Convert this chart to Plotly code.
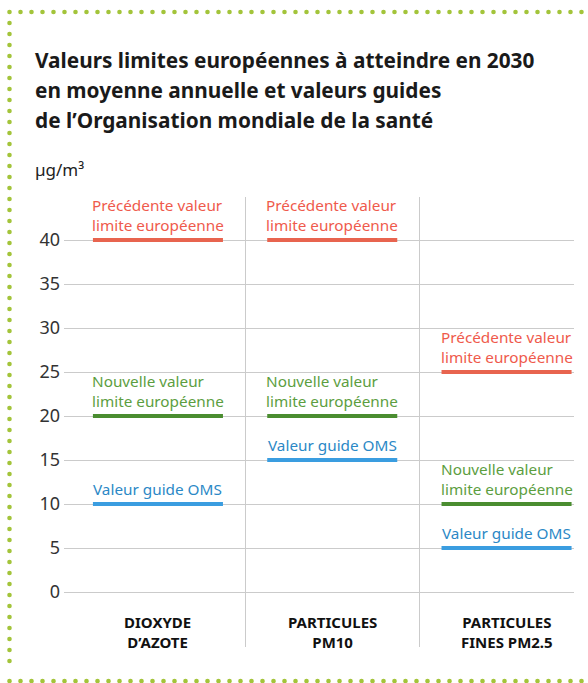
import plotly.graph_objects as go

# ---------------- data ----------------
categories = ["DIOXYDE<br>D’AZOTE", "PARTICULES<br>PM10", "PARTICULES<br>FINES PM2.5"]
previous_limit = [40, 40, 25]
new_limit = [20, 20, 10]
who_guide = [10, 15, 5]
series_names = ["Précédente valeur<br>limite européenne",
                "Nouvelle valeur<br>limite européenne",
                "Valeur guide OMS"]
y_ticks = [0, 5, 10, 15, 20, 25, 30, 35, 40]
title_lines = ["Valeurs limites européennes à atteindre en 2030",
               "en moyenne annuelle et valeurs guides",
               "de l’Organisation mondiale de la santé"]
unit_label = "µg/m³"

# ---------------- styles ----------------
W, H = 588, 683
ML, MR, MT, MB = 64, 14, 197, 36
FONT = "Noto Sans"
line_colors = ["#e8644f", "#4a8d30", "#3a9de0"]
text_colors = ["#ef5a4c", "#5c9e3f", "#2b88c6"]
HALF = 0.373

fig = go.Figure()

series = [previous_limit, new_limit, who_guide]
for s, vals in enumerate(series):
    xs, ys = [], []
    for i, v in enumerate(vals):
        xs += [i - HALF, i + HALF, None]
        ys += [v, v, None]
    fig.add_trace(go.Scatter(x=xs, y=ys, mode="lines",
                             line=dict(color=line_colors[s], width=4),
                             hoverinfo="skip", showlegend=False))

annotations = []
for s, vals in enumerate(series):
    multi = "<br>" in series_names[s]
    for i, v in enumerate(vals):
        annotations.append(dict(
            x=(i - HALF) if multi else i, y=v, xref="x", yref="y",
            text=series_names[s], showarrow=False,
            xanchor="left" if multi else "center", yanchor="bottom", align="left",
            yshift=3, xshift=-3 if multi else 0,
            font=dict(family=FONT, size=15.3, color=text_colors[s])))

def py2paper(py):
    return (H - MB - py) / (H - MT - MB)

def px2paper(px):
    return (px - ML) / (W - ML - MR)

for i, c in enumerate(categories):
    annotations.append(dict(
        x=i, y=py2paper(632), xref="x", yref="paper", text=c,
        showarrow=False, xanchor="center", yanchor="middle", align="center",
        font=dict(family=FONT, size=15, color="#111111", weight="bold")))

for k, txt in enumerate(title_lines):
    annotations.append(dict(
        x=px2paper(33), y=py2paper(60 + 30 * k), xref="paper", yref="paper",
        text=txt, showarrow=False, xanchor="left", yanchor="middle",
        font=dict(family=FONT, size=20.8, color="#1a1a1a", weight="bold")))

annotations.append(dict(
    x=px2paper(33), y=py2paper(170), xref="paper", yref="paper",
    text=unit_label, showarrow=False, xanchor="left", yanchor="middle",
    font=dict(family=FONT, size=17, color="#222222")))

# dotted border (decoration)
shapes = []
DOT = "#a3c43a"
r = 2.3
def dot(px, py):
    shapes.append(dict(type="circle", xref="paper", yref="paper",
                       x0=px2paper(px - r), x1=px2paper(px + r),
                       y0=py2paper(py + r), y1=py2paper(py - r),
                       fillcolor=DOT, line=dict(width=0), layer="below"))

x = 9.5
while x <= 584:
    dot(x, 12)
    dot(x, 681)
    x += 11
y = 23
while y <= 670:
    dot(9.5, y)
    y += 11

fig.update_layout(
    width=W, height=H,
    margin=dict(l=ML, r=MR, t=MT, b=MB, pad=0),
    paper_bgcolor="white", plot_bgcolor="white",
    showlegend=False,
    annotations=annotations,
    shapes=shapes,
    xaxis=dict(range=[-0.539, 2.387], tickvals=[0.5, 1.5], showticklabels=False,
               showgrid=True, gridcolor="#cbcbcb", gridwidth=1.3,
               zeroline=False, showline=False, ticks="", fixedrange=True),
    yaxis=dict(range=[-6.25, 44.89], tickvals=y_ticks,
               ticktext=[str(t) for t in y_ticks],
               showgrid=True, gridcolor="#cbcbcb", gridwidth=1.3,
               zeroline=False, showline=False, ticks="",
               ticklabelstandoff=3,
               tickfont=dict(family=FONT, size=18, color="#333333"),
               fixedrange=True),
)

fig.write_html("out.html", config={"displayModeBar": False},
               post_script="document.body.style.margin='0px';")
